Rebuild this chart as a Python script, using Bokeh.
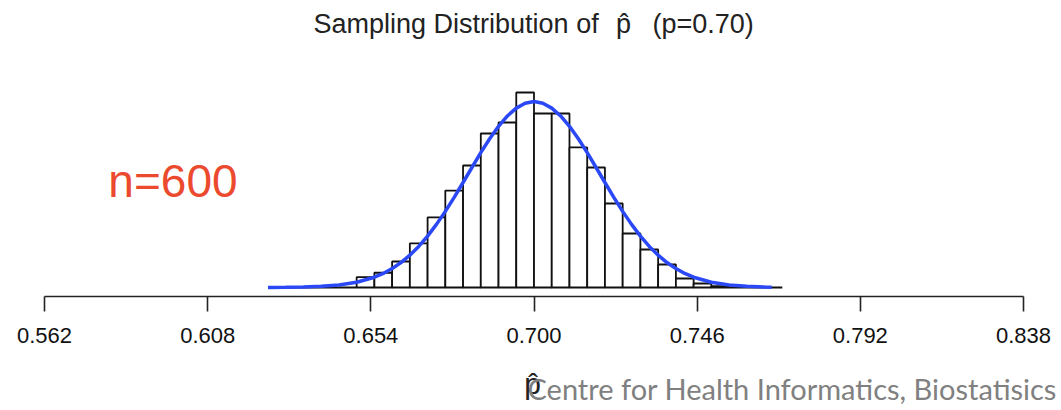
from bokeh.plotting import figure
from bokeh.models import Range1d, FixedTicker, Label, ColumnDataSource
from bokeh.layouts import column
from bokeh.embed import file_html
from bokeh.resources import INLINE

# ---- data ----
bin_left = [0.625, 0.630, 0.635, 0.640, 0.645, 0.650, 0.655, 0.660, 0.665, 0.670,
            0.675, 0.680, 0.685, 0.690, 0.695, 0.700, 0.705, 0.710, 0.715, 0.720,
            0.725, 0.730, 0.735, 0.740, 0.745, 0.750, 0.755, 0.760, 0.765]
bin_width = 0.005
density = [0.0, 0.0, 0.0, 0.0, 0.0, 1.18, 1.69, 2.98, 5.05, 8.03,
           11.12, 13.99, 17.66, 18.92, 22.36, 19.95, 19.95, 16.06, 13.76, 9.63,
           6.19, 4.36, 2.64, 1.03, 0.46, 0.15, 0.0, 0.0, 0.0]

curve_x = [0.625, 0.630, 0.635, 0.640, 0.645, 0.650,
           0.655, 0.6575, 0.660, 0.6625, 0.665, 0.6675, 0.670, 0.6725, 0.675, 0.6775,
           0.680, 0.6825, 0.685, 0.6875, 0.690, 0.6925, 0.695, 0.6975, 0.700,
           0.7025, 0.705, 0.7075, 0.710, 0.7125, 0.715, 0.7175, 0.720, 0.7225,
           0.725, 0.7275, 0.730, 0.7325, 0.735, 0.7375, 0.740, 0.7425, 0.745,
           0.750, 0.755, 0.760, 0.765, 0.767]
curve_y = [0.01, 0.02, 0.05, 0.13, 0.28, 0.60,
           1.18, 1.61, 2.17, 2.86, 3.71, 4.71, 5.89, 7.24, 8.73, 10.34,
           12.04, 13.76, 15.46, 17.06, 18.48, 19.67, 20.57, 21.13, 21.32,
           21.13, 20.57, 19.67, 18.48, 17.06, 15.46, 13.76, 12.04, 10.34,
           8.73, 7.24, 5.89, 4.71, 3.71, 2.86, 2.17, 1.61, 1.18,
           0.60, 0.28, 0.13, 0.05, 0.035]

tick_values = [0.562, 0.608, 0.654, 0.700, 0.746, 0.792, 0.838]
tick_labels = ["0.562", "0.608", "0.654", "0.700", "0.746", "0.792", "0.838"]

title_part1 = "Sampling Distribution of"
title_phat = "p\u0302"
title_part2 = "(p=0.70)"
n_text = "n=600"
xlabel_text = "p\u0302"
footer_text = "Centre for Health Informatics, Biostatisics"

W = 1058
FONT = "Liberation Sans"

# ---- main figure (frame spans the full width; axis bounded to the tick range) ----
p = figure(width=W, height=356, output_backend="svg", toolbar_location=None,
           x_range=Range1d(0.549595, 0.847867), y_range=Range1d(-1.032, 32.91),
           y_axis_location=None, min_border_left=0, min_border_right=0,
           min_border_top=0, min_border_bottom=60)
p.outline_line_color = None
p.xgrid.visible = False
p.ygrid.visible = False
p.background_fill_color = "white"

src = ColumnDataSource(dict(left=bin_left,
                            right=[b + bin_width for b in bin_left],
                            top=density,
                            bottom=[0.0] * len(bin_left)))
p.quad(left="left", right="right", top="top", bottom="bottom", source=src,
       fill_color="white", line_color="#111111", line_width=1.8)

p.line(curve_x, curve_y, line_color="#2a48f5", line_width=3.5)

ax = p.xaxis[0]
ax.bounds = (tick_values[0], tick_values[-1])
ax.ticker = FixedTicker(ticks=tick_values)
ax.major_label_overrides = {v: s for v, s in zip(tick_values, tick_labels)}
ax.minor_tick_line_color = None
ax.major_tick_in = 0
ax.major_tick_out = 15
ax.major_tick_line_width = 1.6
ax.major_tick_line_color = "#222222"
ax.axis_line_width = 1.6
ax.axis_line_color = "#222222"
ax.major_label_text_font = FONT
ax.major_label_text_font_size = "22px"
ax.major_label_text_color = "#111111"
ax.major_label_standoff = 16

p.add_layout(Label(x=0.63784, y=30.2, text=title_part1, text_font=FONT,
                   text_font_size="27px", text_color="#222222",
                   text_align="left", text_baseline="alphabetic"))
p.add_layout(Label(x=0.72524, y=30.2, text=title_phat, text_font=FONT,
                   text_font_size="27px", text_color="#222222",
                   text_align="center", text_baseline="alphabetic"))
p.add_layout(Label(x=0.73341, y=30.2, text=title_part2, text_font=FONT,
                   text_font_size="27px", text_color="#222222",
                   text_align="left", text_baseline="alphabetic"))
p.add_layout(Label(x=0.5800, y=12.19, text=n_text, text_font=FONT,
                   text_font_size="46px", text_color="#ec4a2e",
                   text_align="left", text_baseline="alphabetic"))

# ---- strip below the axis for the axis symbol and the footer ----
q = figure(width=W, height=50, output_backend="svg", toolbar_location=None,
           x_range=Range1d(0, W), y_range=Range1d(0, 50),
           x_axis_location=None, y_axis_location=None,
           min_border_left=0, min_border_right=0, min_border_top=0, min_border_bottom=0)
q.outline_line_color = None
q.xgrid.visible = False
q.ygrid.visible = False

q.add_layout(Label(x=532, y=22.6, text=xlabel_text, text_font=FONT,
                   text_font_size="30px", text_color="#222222",
                   text_align="center", text_baseline="alphabetic"))
q.add_layout(Label(x=527, y=18.2, text=footer_text, text_font="Lato",
                   text_font_size="29px", text_color="#808080",
                   text_align="left", text_baseline="alphabetic"))

layout = column(p, q, spacing=0)
open("out.html", "w").write(file_html(layout, INLINE))
